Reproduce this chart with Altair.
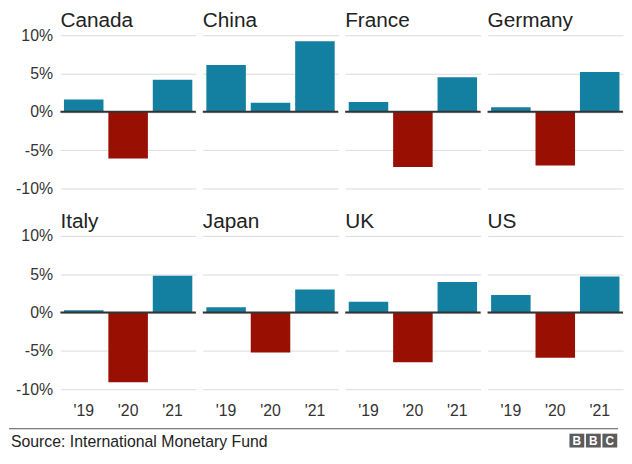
import altair as alt
import pandas as pd

countries = ["Canada", "China", "France", "Germany", "Italy", "Japan", "UK", "US"]
years = ["'19", "'20", "'21"]
growth_2019 = [1.6, 6.1, 1.3, 0.6, 0.3, 0.7, 1.4, 2.3]
growth_2020 = [-6.1, 1.2, -7.2, -7.0, -9.1, -5.2, -6.5, -5.9]
growth_2021 = [4.2, 9.2, 4.5, 5.2, 4.8, 3.0, 4.0, 4.7]
y_ticks = [-10, -5, 0, 5, 10]
source_text = ["Source: International Monetary Fund"]
logo_letters = ["B", "B", "C"]

FONT = "Liberation Sans"
BLUE = "#1380A1"
RED = "#990F02"

rows = []
for i, c in enumerate(countries):
    for yr, vals in zip(years, [growth_2019, growth_2020, growth_2021]):
        v = vals[i]
        rows.append({"country": c, "year": yr, "growth": v, "sign": "neg" if v < 0 else "pos"})
df = pd.DataFrame(rows)

y_axis = alt.Axis(values=y_ticks, labelExpr="datum.value + '%'", domain=False,
                  ticks=False, grid=True, gridColor="#dcdcdc", gridWidth=1,
                  labelFontSize=16, labelColor="#333333", labelPadding=7,
                  labelFont=FONT, minExtent=52)
y_scale = alt.Scale(domain=[-10, 10], nice=False)

bars = alt.Chart().mark_bar().encode(
    x=alt.X("year:N", sort=years, title=None,
            scale=alt.Scale(paddingInner=0.11, paddingOuter=0.08),
            axis=alt.Axis(labelAngle=0, domain=False, ticks=False, grid=False,
                          labelFontSize=16, labelColor="#333333", labelPadding=14,
                          labelFont=FONT)),
    y=alt.Y("growth:Q", title=None, scale=y_scale, axis=y_axis),
    color=alt.Color("sign:N", scale=alt.Scale(domain=["pos", "neg"], range=[BLUE, RED]),
                    legend=None),
)

zero = alt.Chart().mark_rule(color="#333333", strokeWidth=2).encode(
    y=alt.YDatum(0, type="quantitative", scale=y_scale, axis=y_axis)
).transform_filter(alt.FieldEqualPredicate(field="year", equal="'19"))

panels = alt.layer(bars, zero, data=df).properties(width=137, height=155).facet(
    facet=alt.Facet("country:N", sort=countries, title=None,
                    header=alt.Header(labelFontSize=21, labelAnchor="start", labelAlign="left",
                                      labelColor="#222222", labelFont=FONT, labelPadding=4,
                                      labelOrient="top")),
    columns=4,
    spacing={"row": 23, "column": 5},
)

logo_df = pd.DataFrame({"i": [0, 1, 2], "letter": logo_letters})
src_df = pd.DataFrame({"t": source_text})

sep = alt.Chart(src_df).mark_rule(color="#555555", strokeWidth=1).encode(
    x=alt.value(-52), x2=alt.value(564), y=alt.value(1))
src = alt.Chart(src_df).mark_text(align="left", baseline="middle", fontSize=16,
                                  font=FONT, color="#222222").encode(
    x=alt.value(-50), y=alt.value(14), text="t:N")
logo_scale = alt.Scale(domain=[0, 3], range=[514, 564])
logo_box = alt.Chart(logo_df).transform_calculate(
    x0="datum.i + 0.05", x1="datum.i + 0.95"
).mark_rect(color="#5c5c5c").encode(
    x=alt.X("x0:Q", axis=None, scale=logo_scale), x2="x1:Q",
    y=alt.value(6), y2=alt.value(20))
logo_txt = alt.Chart(logo_df).transform_calculate(
    xm="datum.i + 0.5"
).mark_text(color="white", fontWeight="bold", fontSize=12,
            font=FONT, baseline="middle").encode(
    x=alt.X("xm:Q", axis=None, scale=logo_scale),
    y=alt.value(13.5), text="letter:N")

footer = alt.layer(sep, src, logo_box, logo_txt).properties(width=563, height=20)

chart = alt.vconcat(panels, footer, spacing=9).properties(
    padding={"left": 0, "top": 0, "right": 0, "bottom": 0}
).configure(font=FONT).configure_view(stroke=None)

chart.save("out.html", embed_options={"renderer": "svg", "actions": False})
